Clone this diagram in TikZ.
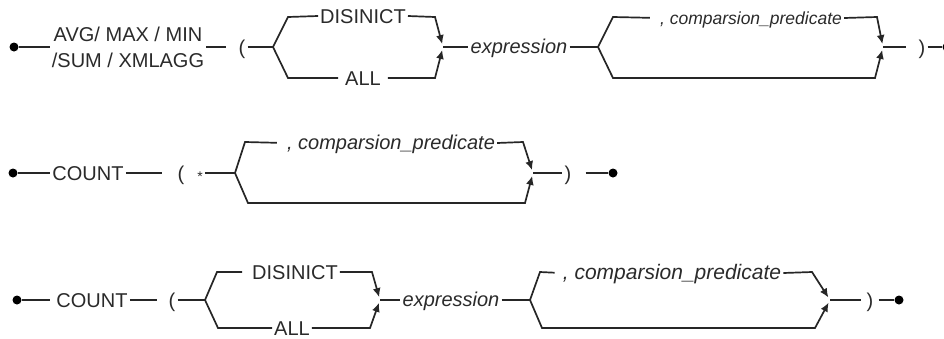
\documentclass[tikz,border=0pt]{standalone}
\usepackage{fontspec}
\setmainfont{Liberation Sans}
\usepackage{xcolor}
\usetikzlibrary{arrows.meta}
\definecolor{railgray}{HTML}{262626}
\definecolor{textgray}{HTML}{2A2A2A}

\begin{document}
\begin{tikzpicture}[x=1pt, y=-1pt,
    rail/.style={draw=railgray, line width=1.7pt},
    merge/.style={rail, -{Latex[length=9pt,width=8pt]}, shorten >=3pt},
    txt/.style={text=textgray, inner sep=2pt, font=\fontsize{20}{26}\selectfont},
    word/.style={txt, text height=14.4pt, text depth=0pt},
    var/.style={word, text height=12pt, font=\fontsize{20}{26}\selectfont\itshape},
    endpt/.style={circle, fill=black, inner sep=0pt, minimum size=9pt}]
    \useasboundingbox (0,0) rectangle (944,338);

    % first form
    \node[endpt] (start1) at (14,47) {};
    \node[txt, align=center] (func1) at (128,47) {AVG/ MAX / MIN\\/SUM / XMLAGG};
    \node[word] (lpar1) at (242,47) {(};
    \coordinate (fork1) at (273,47);
    \node[word] (dist1) at (363,16) {DISINICT};
    \node[word, inner xsep=7pt] (all1) at (363,78) {ALL};
    \coordinate (join1) at (443,47);
    \node[var] (expr1) at (519,47) {expression};
    \coordinate (fork2) at (598,47);
    \node[var, font=\fontsize{17.5}{20}\selectfont\itshape] (pred1) at (751,18) {, comparsion\_predicate};
    \coordinate (join2) at (883,47);
    \node[word] (rpar1) at (922,47) {)};
    \node[endpt] (end1) at (947,47) {};

    \draw[rail] (start1) -- (func1.west);
    \draw[rail, shorten >=10pt] (func1.east) -- (lpar1.west);
    \draw[rail] (lpar1.east) -- (fork1);
    \draw[rail] (fork1) -- (288,17) -- (dist1.west);
    \draw[merge] (dist1.east) -- (435,17) -- (join1);
    \draw[rail] (fork1) -- (288,78) -- (all1.west);
    \draw[merge] (all1.east) -- (435,78) -- (join1);
    \draw[rail] (join1) -- (expr1.west);
    \draw[rail] (expr1.east) -- (fork2);
    \draw[rail, shorten >=8pt] (fork2) -- (613,17) -- (pred1.west);
    \draw[merge] (pred1.east) -- (877,17) -- (join2);
    \draw[merge] (fork2) -- (613,78) -- (875,78) -- (join2);
    \draw[rail, shorten >=10pt] (join2) -- (rpar1.west);
    \draw[rail] (rpar1.east) -- (end1);

    % second form
    \node[endpt] (start2) at (13,173) {};
    \node[word] (count2) at (88,173) {COUNT};
    \node[word] (lpar2) at (181,173) {(};
    \node[txt, font=\fontsize{14}{16}\selectfont] (star2) at (200,177) {*};
    \coordinate (fork3) at (235,173);
    \node[var] (pred2) at (391,143) {, comparsion\_predicate};
    \coordinate (join3) at (533,173);
    \node[word] (rpar2) at (568,173) {)};
    \node[endpt] (end2) at (613,173) {};

    \draw[rail] (start2) -- (count2.west);
    \draw[rail, shorten >=13pt] (count2.east) -- (lpar2.west);
    \draw[rail] (star2.east |- fork3) -- (fork3);
    \draw[rail, shorten >=8pt] (fork3) -- (245,142) -- (pred2.west);
    \draw[merge] (pred2.east) -- (523,142) -- (join3);
    \draw[merge] (fork3) -- (248,203) -- (525,203) -- (join3);
    \draw[rail] (join3) -- (rpar2.west);
    \draw[rail, shorten <=12pt] (rpar2.east) -- (end2);

    % third form
    \node[endpt] (start3) at (17,300) {};
    \node[word] (count3) at (92,300) {COUNT};
    \node[word] (lpar3) at (172,300) {(};
    \coordinate (fork4) at (205,300);
    \node[word] (dist3) at (295,272) {DISINICT};
    \node[word] (all3) at (292,328) {ALL};
    \coordinate (join4) at (380,300);
    \node[var] (expr3) at (451,300) {expression};
    \coordinate (fork5) at (530,300);
    \node[var, font=\fontsize{21}{26}\selectfont\itshape] (pred3) at (672,273) {, comparsion\_predicate};
    \coordinate (join5) at (830,300);
    \node[word] (rpar3) at (870,300) {)};
    \node[endpt] (end3) at (899,300) {};

    \draw[rail, shorten >=4pt] (start3) -- (count3.west);
    \draw[rail, shorten >=9pt] (count3.east) -- (lpar3.west);
    \draw[rail] (lpar3.east) -- (fork4);
    \draw[rail, shorten >=8pt] (fork4) -- (217,272) -- (dist3.west);
    \draw[merge] (dist3.east) -- (372,272) -- (join4);
    \draw[rail] (fork4) -- (218,328) -- (all3.west);
    \draw[merge] (all3.east) -- (370,328) -- (join4);
    \draw[rail] (join4) -- (expr3.west);
    \draw[rail] (expr3.east) -- (fork5);
    \draw[rail, shorten >=6pt] (fork5) -- (540,272) -- (pred3.west);
    \draw[merge] (pred3.east) -- (812,272) -- (join5);
    \draw[merge] (fork5) -- (542,328) -- (815,328) -- (join5);
    \draw[rail, shorten >=3pt] (join5) -- (rpar3.west);
    \draw[rail, shorten <=3pt] (rpar3.east) -- (end3);
\end{tikzpicture}
\end{document}
